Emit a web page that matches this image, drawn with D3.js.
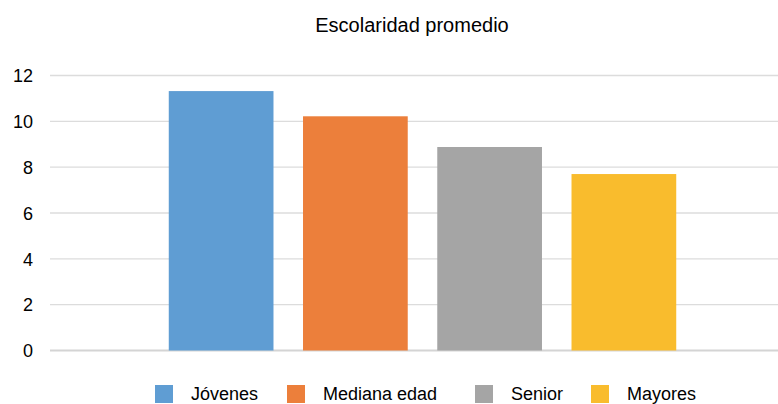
<!DOCTYPE html>
<html>
<head>
<meta charset="utf-8">
<script src="https://d3js.org/d3.v7.min.js"></script>
<style>
  body { margin: 0; background: #fff; }
  text { font-family: "Liberation Sans", Arial, Helvetica, sans-serif; fill: #000; }
</style>
</head>
<body>
<div id="grafico"></div>
<script>
  const categorias = ["Jóvenes", "Mediana edad", "Senior", "Mayores"];
  const valores = [11.32, 10.22, 8.88, 7.7];
  const colores = ["#5f9dd3", "#ec7f3b", "#a5a5a5", "#f9bc2d"];
  const ticksY = [0, 2, 4, 6, 8, 10, 12];

  const ancho = 778;
  const alto = 404;

  const svg = d3.select("#grafico")
    .append("svg")
    .attr("width", ancho)
    .attr("height", alto);

  const x = d3.scaleBand()
    .domain(categorias)
    .range([154, 691])
    .paddingInner(0.22)
    .paddingOuter(0.11);

  const y = d3.scaleLinear()
    .domain([0, 12])
    .range([350.5, 75.5]);

  // titulo
  svg.append("text")
    .attr("x", 412)
    .attr("y", 32)
    .attr("text-anchor", "middle")
    .style("font-size", "20px")
    .text("Escolaridad promedio");

  // lineas de cuadricula
  svg.append("g")
    .selectAll("line")
    .data(ticksY)
    .join("line")
    .attr("x1", 50)
    .attr("x2", ancho)
    .attr("y1", d => y(d))
    .attr("y2", d => y(d))
    .attr("stroke", d => d === 0 ? "#d4d4d4" : "#dcdcdc")
    .attr("stroke-width", d => d === 0 ? 2 : 1.3);

  // eje Y
  const ejeY = svg.append("g")
    .attr("transform", "translate(33,0)")
    .call(d3.axisLeft(y).tickValues(ticksY).tickSize(0).tickPadding(0));
  ejeY.select(".domain").remove();
  ejeY.selectAll("text")
    .style("font-size", "18px")
    .attr("fill", "#000")
    .attr("dy", "0.35em");

  // barras
  svg.append("g")
    .selectAll("rect")
    .data(categorias)
    .join("rect")
    .attr("x", d => x(d))
    .attr("width", x.bandwidth())
    .attr("y", (d, i) => y(valores[i]))
    .attr("height", (d, i) => y(0) - y(valores[i]))
    .attr("fill", (d, i) => colores[i]);

  // leyenda
  const posLeyenda = [155, 287, 475, 591];
  const leyenda = svg.append("g")
    .selectAll("g")
    .data(categorias)
    .join("g")
    .attr("transform", (d, i) => "translate(" + posLeyenda[i] + ",385)");

  leyenda.append("rect")
    .attr("width", 18)
    .attr("height", 18)
    .attr("fill", (d, i) => colores[i]);

  leyenda.append("text")
    .attr("x", 36)
    .attr("y", 15)
    .style("font-size", "18px")
    .text(d => d);
</script>
</body>
</html>
